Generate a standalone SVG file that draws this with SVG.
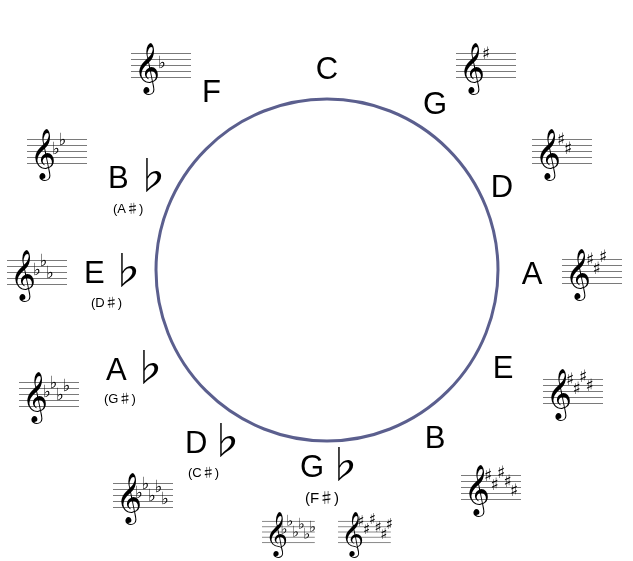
<svg xmlns="http://www.w3.org/2000/svg" width="633" height="561" viewBox="0 0 633 561">
<style>
.lab{font-family:"Liberation Sans",Arial,sans-serif;font-size:31px;fill:#000}
.fl{font-family:"Noto Sans CJK JP","DejaVu Sans",sans-serif;font-size:38px;fill:#000}
.sub{font-family:"Liberation Sans","Noto Sans CJK JP",sans-serif;font-size:13px;fill:#000}
.sh{font-family:"Noto Sans CJK JP","DejaVu Sans",sans-serif}
.clef{font-family:"DejaVu Sans",sans-serif;font-size:44px;fill:#000}
.acc{font-family:"DejaVu Sans",sans-serif;font-size:17px;text-anchor:middle;fill:#000}
.mid{text-anchor:middle}
</style>
<defs>
<filter id="gray" x="0" y="0" width="1" height="1"><feOffset dx="0" dy="0"/></filter>
<g id="staff">
<path d="M0 0.5H60M0 6.5H60M0 12.5H60M0 18.5H60M0 24.5H60" stroke="#7a7a7a" stroke-width="1" fill="none"/>
<text class="clef" x="3" y="29">𝄞</text>
</g>
</defs>
<rect width="633" height="561" fill="#fff"/>
<g filter="url(#gray)">
<rect width="633" height="561" fill="#fff"/>
<g id="ring">
<circle cx="327" cy="270" r="171" fill="none" stroke="#5b5f8e" stroke-width="3"/>
</g>

<g id="key-C">
<text class="lab mid" x="327" y="79">C</text>
</g>

<g id="key-G">
<text class="lab mid" x="435" y="114">G</text>
<g transform="translate(456,53)"><use href="#staff"/>
<text class="acc" x="30" y="6">♯</text></g>
</g>

<g id="key-D">
<text class="lab mid" x="502" y="197">D</text>
<g transform="translate(532,139)"><use href="#staff"/>
<text class="acc" x="29" y="6">♯</text><text class="acc" x="36" y="15">♯</text></g>
</g>

<g id="key-A">
<text class="lab mid" x="532" y="284">A</text>
<g transform="translate(562,259)"><use href="#staff"/>
<text class="acc" x="28" y="6">♯</text><text class="acc" x="34.5" y="15">♯</text><text class="acc" x="41" y="3">♯</text></g>
</g>

<g id="key-E">
<text class="lab mid" x="503" y="378">E</text>
<g transform="translate(543,379)"><use href="#staff"/>
<text class="acc" x="27" y="6">♯</text><text class="acc" x="33.5" y="15">♯</text><text class="acc" x="40" y="3">♯</text><text class="acc" x="46.5" y="12">♯</text></g>
</g>

<g id="key-B">
<text class="lab mid" x="435" y="448">B</text>
<g transform="translate(461,475)"><use href="#staff"/>
<text class="acc" x="27" y="6">♯</text><text class="acc" x="33.5" y="15">♯</text><text class="acc" x="40" y="3">♯</text><text class="acc" x="46.5" y="12">♯</text><text class="acc" x="53" y="21">♯</text></g>
</g>

<g id="key-Gb">
<text class="lab" x="300" y="477">G</text><text class="fl" x="325" y="478">♭</text>
<text class="sub mid" x="322" y="503" style="font-size:15px">(F<tspan class="sh">♯</tspan>)</text>
<g transform="translate(262,521) scale(0.88)"><use href="#staff"/>
<text class="acc" x="25" y="15">♭</text><text class="acc" x="31.5" y="6">♭</text><text class="acc" x="38" y="18">♭</text><text class="acc" x="44.5" y="9">♭</text><text class="acc" x="51" y="21">♭</text><text class="acc" x="57.5" y="12">♭</text></g>
<g transform="translate(338,521) scale(0.88)"><use href="#staff"/>
<text class="acc" x="26" y="6">♯</text><text class="acc" x="32.5" y="15">♯</text><text class="acc" x="39" y="3">♯</text><text class="acc" x="45.5" y="12">♯</text><text class="acc" x="52" y="21">♯</text><text class="acc" x="58.5" y="9">♯</text></g>
</g>

<g id="key-Db">
<text class="lab" x="185" y="453">D</text><text class="fl" x="207" y="454">♭</text>
<text class="sub" x="188" y="477">(C<tspan class="sh">♯</tspan>)</text>
<g transform="translate(113,483)"><use href="#staff"/>
<text class="acc" x="26" y="15">♭</text><text class="acc" x="32.5" y="6">♭</text><text class="acc" x="39" y="18">♭</text><text class="acc" x="45.5" y="9">♭</text><text class="acc" x="52" y="21">♭</text></g>
</g>

<g id="key-Ab">
<text class="lab" x="106" y="380">A</text><text class="fl" x="130" y="381">♭</text>
<text class="sub" x="104" y="403">(G<tspan class="sh">♯</tspan>)</text>
<g transform="translate(19,382)"><use href="#staff"/>
<text class="acc" x="28" y="15">♭</text><text class="acc" x="34.5" y="6">♭</text><text class="acc" x="41" y="18">♭</text><text class="acc" x="47.5" y="9">♭</text></g>
</g>

<g id="key-Eb">
<text class="lab" x="84" y="283">E</text><text class="fl" x="108" y="284">♭</text>
<text class="sub" x="91" y="307">(D<tspan class="sh">♯</tspan>)</text>
<g transform="translate(7,260)"><use href="#staff"/>
<text class="acc" x="30" y="15">♭</text><text class="acc" x="36.5" y="6">♭</text><text class="acc" x="43" y="18">♭</text></g>
</g>

<g id="key-Bb">
<text class="lab" x="108" y="188">B</text><text class="fl" x="133" y="189">♭</text>
<text class="sub" x="113" y="213">(A<tspan class="sh">♯</tspan>)</text>
<g transform="translate(27,139)"><use href="#staff"/>
<text class="acc" x="29" y="15">♭</text><text class="acc" x="35.5" y="6">♭</text></g>
</g>

<g id="key-F">
<text class="lab" x="202" y="102">F</text>
<g transform="translate(131,53)"><use href="#staff"/>
<text class="acc" x="31" y="15">♭</text></g>
</g>
</g>
</svg>
